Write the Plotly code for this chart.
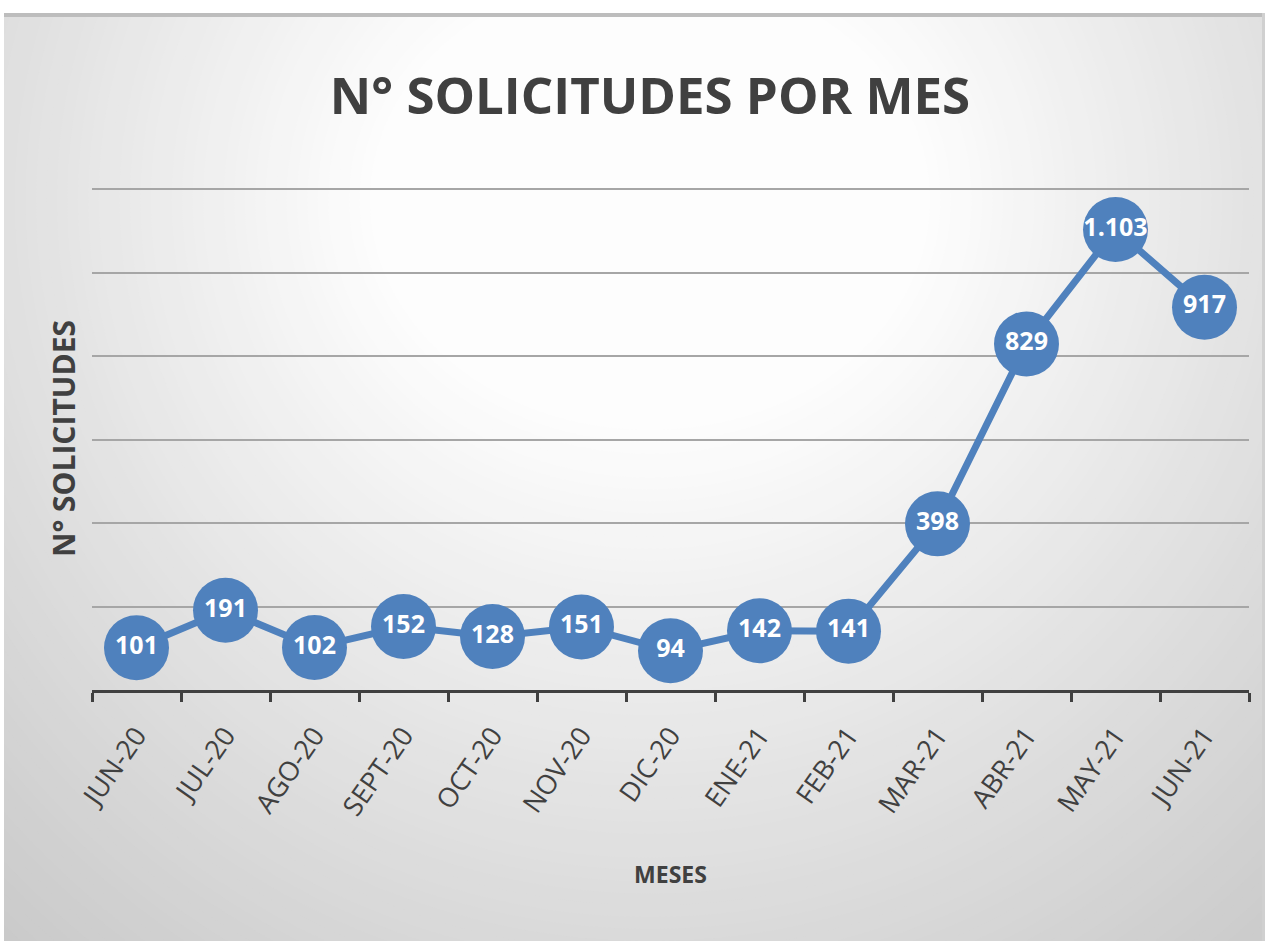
import plotly.graph_objects as go

months = ["JUN-20", "JUL-20", "AGO-20", "SEPT-20", "OCT-20", "NOV-20", "DIC-20",
          "ENE-21", "FEB-21", "MAR-21", "ABR-21", "MAY-21", "JUN-21"]
solicitudes = [101, 191, 102, 152, 128, 151, 94, 142, 141, 398, 829, 1103, 917]
labels = ["101", "191", "102", "152", "128", "151", "94", "142", "141", "398", "829", "1.103", "917"]

W, H = 1274, 941
L, R, T, B = 92, 25, 187, 251
PW, PH = W - L - R, H - T - B

def px(x):
    return (x - L) / PW

def py(y):
    return (H - B - y) / PH

BLUE = "#4f81bd"
TXT = "#404040"

fig = go.Figure()
fig.add_trace(go.Scatter(
    x=months, y=solicitudes, mode="lines+markers+text",
    text=labels, textposition="middle center",
    textfont=dict(family="Open Sans", size=25, color="white", weight="bold"),
    line=dict(color=BLUE, width=7),
    marker=dict(color=BLUE, size=65, line=dict(width=0)),
    cliponaxis=False, hoverinfo="skip", showlegend=False,
))

shapes = []
# panel base
shapes.append(dict(type="rect", xref="paper", yref="paper", x0=px(4), x1=px(1262), y0=py(941), y1=py(13),
                   fillcolor="#c8c8c8", line=dict(width=0), layer="below"))
# radial gradient approximation
cx, cy = 650, 200
n = 70
for i in range(n):
    f = i / (n - 1)
    rx = 1000 * (1 - f) + 280 * f
    ry = 1050 * (1 - f) + 230 * f
    g = int(round(0xc8 + (0xfd - 0xc8) * (f ** 1.1)))
    col = "#%02x%02x%02x" % (g, g, g)
    shapes.append(dict(type="circle", xref="paper", yref="paper",
                       x0=px(cx - rx), x1=px(cx + rx), y0=py(cy + ry), y1=py(cy - ry),
                       fillcolor=col, line=dict(width=0), layer="below"))
# white borders to clip gradient
shapes.append(dict(type="rect", xref="paper", yref="paper", x0=px(-50), x1=px(W + 50), y0=py(13), y1=py(-50),
                   fillcolor="white", line=dict(width=0), layer="below"))
shapes.append(dict(type="rect", xref="paper", yref="paper", x0=px(1262), x1=px(W + 50), y0=py(H + 50), y1=py(-50),
                   fillcolor="white", line=dict(width=0), layer="below"))
shapes.append(dict(type="rect", xref="paper", yref="paper", x0=px(-50), x1=px(4), y0=py(H + 50), y1=py(-50),
                   fillcolor="white", line=dict(width=0), layer="below"))
# top shadow line
shapes.append(dict(type="rect", xref="paper", yref="paper", x0=px(4), x1=px(1262), y0=py(17), y1=py(13),
                   fillcolor="#bdbdbd", line=dict(width=0), layer="below"))
shapes.append(dict(type="rect", xref="paper", yref="paper", x0=px(1262), x1=px(1265), y0=py(941), y1=py(13),
                   fillcolor="#d0d0d0", line=dict(width=0), layer="below"))

fig.update_layout(
    width=W, height=H,
    margin=dict(l=L, r=R, t=T, b=B),
    paper_bgcolor="white", plot_bgcolor="rgba(0,0,0,0)",
    shapes=shapes,
    title=dict(text="N° SOLICITUDES POR MES", x=650 / W, xref="container", xanchor="center",
               y=1 - 96 / H, yref="container", yanchor="middle",
               font=dict(family="Open Sans", size=51, color=TXT, weight="bold")),
    xaxis=dict(type="category", tickson="boundaries", ticks="outside", ticklen=9, tickwidth=3,
               tickcolor=TXT, showline=True, linecolor=TXT, linewidth=3, showgrid=False,
               tickangle=-55, tickfont=dict(family="Open Sans", size=27, color=TXT),
               ticklabelstandoff=16,
               title=dict(text="MESES", font=dict(family="Open Sans", size=23, color=TXT, weight="bold"),
                          standoff=46),
               range=[-0.5, 12.5], zeroline=False),
    yaxis=dict(range=[0, 1205], tickvals=[200, 400, 600, 800, 1000, 1200], showticklabels=False,
               ticks="", showgrid=True,
               gridcolor="#a6a6a6", gridwidth=2, zeroline=False, showline=False,
               title=dict(text="N° SOLICITUDES", font=dict(family="Open Sans", size=30, color=TXT, weight="bold"),
                          standoff=6)),
)

fig.write_html("out.html", config={"displayModeBar": False},
               post_script="document.body.style.margin='0';document.body.style.overflow='hidden';")
